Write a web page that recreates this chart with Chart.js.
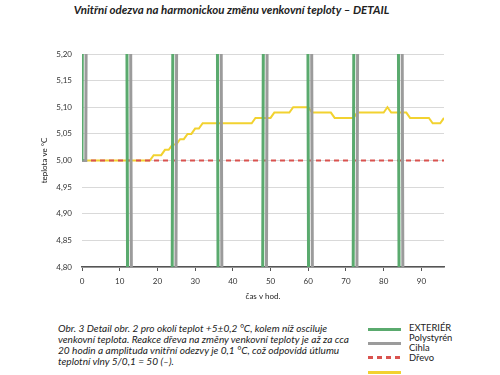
<!DOCTYPE html>
<html>
<head>
<meta charset="utf-8">
<script src="https://cdn.jsdelivr.net/npm/chart.js@4"></script>
<style>
  body{margin:0;background:#fff;font-family:Lato,sans-serif;color:#222}
  #wrap{position:relative;width:500px;height:375px;overflow:hidden}
  #title{position:absolute;left:0;top:3px;width:463px;text-align:center;font-weight:700;font-style:italic;font-size:11.5px}
  #box{position:absolute;left:0;top:0;width:500px;height:305px}
  #caption{position:absolute;left:58px;top:323px;font-style:italic;font-size:10.1px;line-height:11px;color:#222;white-space:nowrap}
  .lg{position:absolute;left:368px;width:33px;height:3px}
  #ltext{position:absolute;left:409px;top:323px;font-size:9.4px;line-height:10.1px;color:#222}
</style>
</head>
<body>
<div id="wrap">
  <div id="title">Vnitřní odezva na harmonickou změnu venkovní teploty – DETAIL</div>
  <div id="box"><canvas id="c"></canvas></div>
  <div id="caption">Obr. 3 Detail obr. 2 pro okolí teplot +5±0,2 °C, kolem níž osciluje<br>venkovní teplota. Reakce dřeva na změny venkovní teploty je až za cca<br>20 hodin a amplituda vnitřní odezvy je 0,1 °C, což odpovídá útlumu<br>teplotní vlny 5/0,1 = 50 (–).</div>
  <div class="lg" style="top:327.5px;background:#5aaa6e"></div>
  <div class="lg" style="top:341.5px;background:#9b9b9b"></div>
  <div class="lg" style="top:356px;background:repeating-linear-gradient(90deg,#d9534f 0 5px,transparent 5px 9px)"></div>
  <div class="lg" style="top:370.5px;background:#f2d230"></div>
  <div id="ltext">EXTERIÉR<br>Polystyrén<br>Cihla<br>Dřevo</div>
</div>
<script>
// ---- data (hodiny 0..96) ----
const hodiny=[
  0,1,2,3,4,5,6,7,8,9,10,11,12,13,14,15,16,17,18,19,20,21,22,23,
  24,25,26,27,28,29,30,31,32,33,34,35,36,37,38,39,40,41,42,43,44,45,46,47,
  48,49,50,51,52,53,54,55,56,57,58,59,60,61,62,63,64,65,66,67,68,69,70,71,
  72,73,74,75,76,77,78,79,80,81,82,83,84,85,86,87,88,89,90,91,92,93,94,95,
  96];
// exteriér a polystyrén končí v 95. hodině
const exterier=[
  5.00,7.59,10.00,12.07,13.66,14.66,15.00,14.66,13.66,12.07,10.00,7.59,5.00,2.41,0.00,-2.07,-3.66,-4.66,-5.00,-4.66,-3.66,-2.07,0.00,2.41,
  5.00,7.59,10.00,12.07,13.66,14.66,15.00,14.66,13.66,12.07,10.00,7.59,5.00,2.41,0.00,-2.07,-3.66,-4.66,-5.00,-4.66,-3.66,-2.07,0.00,2.41,
  5.00,7.59,10.00,12.07,13.66,14.66,15.00,14.66,13.66,12.07,10.00,7.59,5.00,2.41,0.00,-2.07,-3.66,-4.66,-5.00,-4.66,-3.66,-2.07,0.00,2.41,
  5.00,7.59,10.00,12.07,13.66,14.66,15.00,14.66,13.66,12.07,10.00,7.59,5.00,2.41,0.00,-2.07,-3.66,-4.66,-5.00,-4.66,-3.66,-2.07,0.00,2.41];
const polystyren=[
  5.00,5.00,7.33,9.50,11.36,12.79,13.69,14.00,13.69,12.79,11.36,9.50,7.33,5.00,2.67,0.50,-1.36,-2.79,-3.69,-4.00,-3.69,-2.79,-1.36,0.50,
  2.67,5.00,7.33,9.50,11.36,12.79,13.69,14.00,13.69,12.79,11.36,9.50,7.33,5.00,2.67,0.50,-1.36,-2.79,-3.69,-4.00,-3.69,-2.79,-1.36,0.50,
  2.67,5.00,7.33,9.50,11.36,12.79,13.69,14.00,13.69,12.79,11.36,9.50,7.33,5.00,2.67,0.50,-1.36,-2.79,-3.69,-4.00,-3.69,-2.79,-1.36,0.50,
  2.67,5.00,7.33,9.50,11.36,12.79,13.69,14.00,13.69,12.79,11.36,9.50,7.33,5.00,2.67,0.50,-1.36,-2.79,-3.69,-4.00,-3.69,-2.79,-1.36,0.50];
const cihla=[
  5.00,5.00,5.00,5.00,5.00,5.00,5.00,5.00,5.00,5.00,5.00,5.00,5.00,5.00,5.00,5.00,5.00,5.00,5.00,5.00,5.00,5.00,5.00,5.00,
  5.00,5.00,5.00,5.00,5.00,5.00,5.00,5.00,5.00,5.00,5.00,5.00,5.00,5.00,5.00,5.00,5.00,5.00,5.00,5.00,5.00,5.00,5.00,5.00,
  5.00,5.00,5.00,5.00,5.00,5.00,5.00,5.00,5.00,5.00,5.00,5.00,5.00,5.00,5.00,5.00,5.00,5.00,5.00,5.00,5.00,5.00,5.00,5.00,
  5.00,5.00,5.00,5.00,5.00,5.00,5.00,5.00,5.00,5.00,5.00,5.00,5.00,5.00,5.00,5.00,5.00,5.00,5.00,5.00,5.00,5.00,5.00,5.00,
  5.00];
const drevo=[
  5.00,5.00,5.00,5.00,5.00,5.00,5.00,5.00,5.00,5.00,5.00,5.00,5.00,5.00,5.00,5.00,5.00,5.00,5.00,5.01,5.01,5.01,5.02,5.02,
  5.03,5.03,5.04,5.04,5.05,5.05,5.06,5.06,5.07,5.07,5.07,5.07,5.07,5.07,5.07,5.07,5.07,5.07,5.07,5.07,5.07,5.07,5.08,5.08,
  5.08,5.08,5.08,5.09,5.09,5.09,5.09,5.09,5.10,5.10,5.10,5.10,5.10,5.09,5.09,5.09,5.09,5.09,5.09,5.08,5.08,5.08,5.08,5.08,
  5.08,5.09,5.09,5.09,5.09,5.09,5.09,5.09,5.09,5.10,5.09,5.09,5.09,5.09,5.09,5.08,5.08,5.08,5.08,5.08,5.08,5.07,5.07,5.07,
  5.08];
const xTicks=[0,10,20,30,40,50,60,70,80,90];

const pts=arr=>arr.map((v,i)=>({x:hodiny[i],y:v}));
const FONT={family:'Lato',size:8};

new Chart(document.getElementById('c'),{type:'line',
  data:{datasets:[
    {label:'EXTERIÉR',data:pts(exterier),borderColor:'#5aaa6e',borderWidth:3},
    {label:'Polystyrén',data:pts(polystyren),borderColor:'#9b9b9b',borderWidth:3},
    {label:'Cihla',data:pts(cihla),borderColor:'#d9534f',borderWidth:2,borderDash:[5,4]},
    {label:'Dřevo',data:pts(drevo),borderColor:'#f2d230',borderWidth:2},
  ]},
  options:{responsive:true,maintainAspectRatio:false,animation:false,
    elements:{point:{radius:0},line:{tension:0}},
    layout:{padding:{left:36,right:56,top:54,bottom:4}},
    plugins:{legend:{display:false},tooltip:{enabled:false}},
    scales:{
      x:{type:'linear',min:0,max:96,
        grid:{drawOnChartArea:false,drawTicks:true,tickLength:4,color:'#555',lineWidth:1},
        border:{display:true,color:'#555',width:1.5},
        afterBuildTicks:s=>{s.ticks=xTicks.map(v=>({value:v}));},
        afterFit:s=>{s.height=34;},
        ticks:{color:'#333',font:FONT,padding:6,maxRotation:0},
        title:{display:true,text:'čas v hod.',color:'#222',font:FONT,padding:{top:2,bottom:0}}},
      y:{min:4.8,max:5.2,
        grid:{color:'#d9d9d9',lineWidth:1,drawTicks:false},
        border:{display:false},
        afterFit:s=>{s.width=46;},
        ticks:{stepSize:0.05,color:'#333',font:FONT,padding:10,callback:v=>v.toFixed(2).replace('.',',')},
        title:{display:true,text:'teplota ve °C',color:'#222',font:FONT,padding:{top:4,bottom:4}}}
    }}
});
</script>
</body>
</html>
